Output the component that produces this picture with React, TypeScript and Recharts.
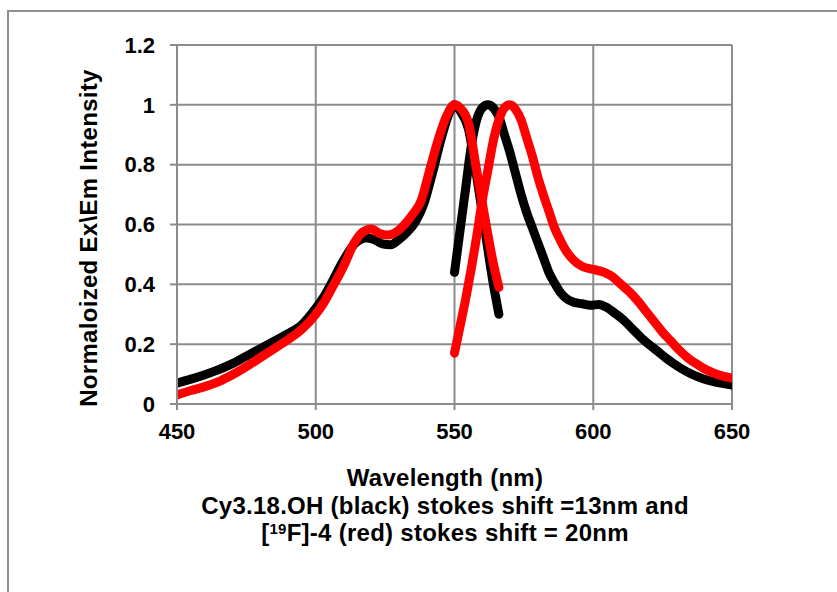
import { LineChart, Line, XAxis, YAxis, CartesianGrid } from 'recharts';

// Cy3.18.OH excitation / emission (black)
const blackExWavelength = [450, 455, 460, 465, 470, 475, 480, 485, 490, 495, 500, 503, 506, 510, 514, 518, 521, 524, 527, 530, 533, 536, 539, 542, 545, 548, 550, 552, 555, 558, 561, 564, 566];
const blackExIntensity = [0.07, 0.083, 0.098, 0.115, 0.135, 0.16, 0.185, 0.21, 0.235, 0.265, 0.32, 0.36, 0.41, 0.48, 0.535, 0.555, 0.55, 0.535, 0.532, 0.55, 0.575, 0.61, 0.67, 0.77, 0.88, 0.97, 1.0, 0.98, 0.92, 0.76, 0.58, 0.4, 0.3];

const blackEmWavelength = [550, 552, 554, 556, 558, 560, 562, 564, 566, 568, 570, 572, 574, 576, 578, 580, 582, 584, 586, 588, 590, 593, 596, 599, 602, 605, 608, 611, 614, 617, 620, 623, 626, 629, 632, 635, 638, 641, 644, 647, 650];
const blackEmIntensity = [0.44, 0.58, 0.72, 0.86, 0.95, 0.99, 1.0, 0.99, 0.96, 0.9, 0.84, 0.77, 0.7, 0.64, 0.59, 0.54, 0.49, 0.44, 0.405, 0.375, 0.355, 0.34, 0.335, 0.33, 0.333, 0.322, 0.302, 0.28, 0.252, 0.224, 0.2, 0.178, 0.155, 0.135, 0.117, 0.102, 0.09, 0.08, 0.073, 0.068, 0.063];

// [19F]-4 excitation / emission (red)
const redExWavelength = [450, 455, 460, 465, 470, 475, 480, 485, 490, 495, 500, 503, 506, 510, 514, 517, 520, 523, 526, 529, 532, 535, 538, 541, 544, 547, 550, 552, 555, 558, 561, 564, 566];
const redExIntensity = [0.03, 0.045, 0.058, 0.075, 0.098, 0.125, 0.155, 0.185, 0.215, 0.25, 0.3, 0.34, 0.39, 0.46, 0.54, 0.575, 0.585, 0.57, 0.565, 0.575, 0.6, 0.635, 0.68, 0.78, 0.88, 0.96, 1.0, 0.99, 0.94, 0.78, 0.62, 0.47, 0.39];

const redEmWavelength = [550, 552, 554, 556, 558, 560, 562, 564, 566, 568, 570, 572, 574, 576, 578, 580, 582, 584, 586, 588, 590, 593, 596, 600, 604, 607, 610, 613, 616, 619, 622, 625, 628, 631, 634, 637, 640, 643, 646, 650];
const redEmIntensity = [0.17, 0.26, 0.35, 0.45, 0.56, 0.68, 0.78, 0.88, 0.95, 0.99, 1.0, 0.985, 0.95, 0.89, 0.83, 0.76, 0.7, 0.645, 0.59, 0.55, 0.515, 0.48, 0.46, 0.45, 0.44, 0.425, 0.4, 0.375, 0.345, 0.31, 0.275, 0.24, 0.21, 0.18, 0.155, 0.135, 0.118, 0.105, 0.095, 0.087];

const xTicks = [450, 500, 550, 600, 650];
const yTicks = [0, 0.2, 0.4, 0.6, 0.8, 1, 1.2];

const toPoints = (xs: number[], ys: number[]) => xs.map((x, i) => ({ x, y: ys[i] }));

const series = [
  { name: 'blackEx', color: '#000000', data: toPoints(blackExWavelength, blackExIntensity) },
  { name: 'blackEm', color: '#000000', data: toPoints(blackEmWavelength, blackEmIntensity) },
  { name: 'redEx', color: '#ff0000', data: toPoints(redExWavelength, redExIntensity) },
  { name: 'redEm', color: '#ff0000', data: toPoints(redEmWavelength, redEmIntensity) },
];

const font = '"Liberation Sans", Arial, sans-serif';
const gridColor = '#8c8c8c';
const tickStyle = { fontSize: 22, fontWeight: 'bold', fill: '#000', fontFamily: font };

export default function App() {
  return (
    <div style={{ position: 'absolute', left: 0, top: 0, width: 837, height: 592, background: '#fff', overflow: 'hidden', fontFamily: font }}>
      {/* chart area frame */}
      <div style={{ position: 'absolute', left: 7, top: 10, width: 900, height: 700, border: '2px solid #8f8f8f' }} />
      <LineChart
        width={837}
        height={592}
        margin={{ top: 45, right: 105, bottom: 148, left: 117 }}
        style={{ position: 'absolute', left: 0, top: 0 }}
      >
        <CartesianGrid stroke={gridColor} strokeWidth={2} />
        <XAxis
          type="number"
          dataKey="x"
          domain={[450, 650]}
          ticks={xTicks}
          allowDataOverflow
          height={40}
          stroke={gridColor}
          strokeWidth={2}
          tickSize={6}
          tickMargin={13}
          tick={tickStyle}
        />
        <YAxis
          type="number"
          dataKey="y"
          domain={[0, 1.2]}
          ticks={yTicks}
          allowDataOverflow
          width={60}
          stroke={gridColor}
          strokeWidth={2}
          tickSize={7}
          tickMargin={15}
          tick={tickStyle}
        />
        {series.map((s) => (
          <Line
            key={s.name}
            data={s.data}
            dataKey="y"
            type="monotone"
            stroke={s.color}
            strokeWidth={9}
            strokeLinecap="round"
            strokeLinejoin="round"
            dot={false}
            activeDot={false}
            isAnimationActive={false}
          />
        ))}
      </LineChart>
      <div
        style={{
          position: 'absolute',
          left: 89,
          top: 238,
          transform: 'translate(-50%, -50%) rotate(-90deg)',
          whiteSpace: 'nowrap',
          fontSize: 24,
          letterSpacing: 0.3,
          fontWeight: 'bold',
          color: '#000',
        }}
      >
        Normaloized Ex\Em Intensity
      </div>
      <div
        style={{
          position: 'absolute',
          left: 145,
          width: 600,
          top: 464,
          textAlign: 'center',
          fontSize: 24,
          letterSpacing: 0.27,
          lineHeight: '27.5px',
          fontWeight: 'bold',
          color: '#000',
        }}
      >
        <div>Wavelength (nm)</div>
        <div>Cy3.18.OH (black) stokes shift =13nm and</div>
        <div>
          [<sup style={{ fontSize: 15, verticalAlign: 'top', lineHeight: '20px' }}>19</sup>F]-4 (red) stokes shift = 20nm
        </div>
      </div>
    </div>
  );
}
